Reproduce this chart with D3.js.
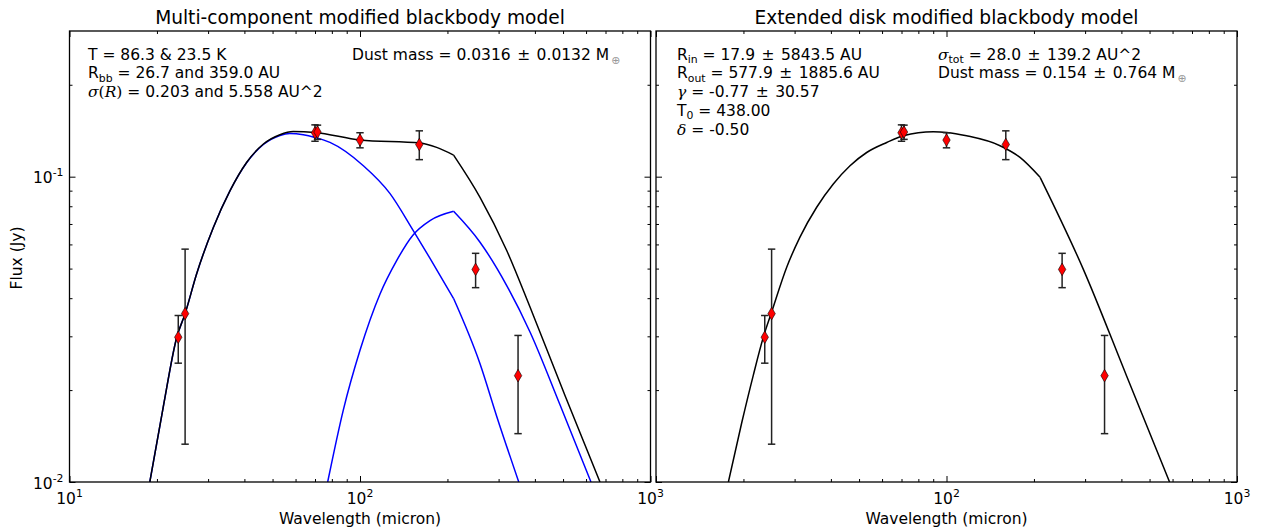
<!DOCTYPE html>
<html>
<head>
<meta charset="utf-8">
<script src="https://cdn.jsdelivr.net/npm/d3@7"></script>
<style>
  body { margin: 0; background: #fff; }
  svg { display: block; }
  text { font-family: "DejaVu Sans", sans-serif; fill: #000; }
</style>
</head>
<body>
<svg id="chart" width="1265" height="531"></svg>
<script>
// Photometry: wavelength (micron), flux (Jy) and 1-sigma errors — same in both panels
const wavelengths = [23.68, 25, 70, 71.4, 100, 160, 250, 350];
const fluxes      = [0.0298, 0.0356, 0.1392, 0.1400, 0.1318, 0.1275, 0.0497, 0.0223];
const fluxErrors  = [0.0053, 0.0223, 0.0086, 0.0075, 0.0075, 0.0138, 0.0064, 0.0079];

// Two-temperature fit: total model and its warm / cold components, [wavelength, flux]
const multiTotal = [
  [18.9, 0.0100], [21.0, 0.0175], [23.4, 0.0298], [25.0, 0.0356], [27.4, 0.0481],
  [31.3, 0.0683], [35.7, 0.0900], [40.7, 0.1113], [46.5, 0.1279], [53.0, 0.1372],
  [58.9, 0.1406], [70.0, 0.1396], [100, 0.1318], [160.9, 0.1288], [183.6, 0.1247],
  [210, 0.1177], [258.9, 0.0856], [319.9, 0.0573], [384.8, 0.0374], [507.7, 0.0192],
  [670, 0.0100]
];
const multiWarm = [
  [18.9, 0.0100], [21.0, 0.0175], [23.4, 0.0298], [25.0, 0.0356], [27.4, 0.0481],
  [31.3, 0.0683], [35.7, 0.0900], [40.7, 0.1111], [46.5, 0.1275], [53.0, 0.1365],
  [57.4, 0.1385], [63.8, 0.1372], [70.0, 0.1344], [78.8, 0.1295], [102.7, 0.1086],
  [126.9, 0.0880], [151.8, 0.0671], [174.2, 0.0540], [210, 0.0399], [258.9, 0.0244],
  [295.6, 0.0164], [352, 0.0100]
];
const multiCold = [
  [77.4, 0.0100], [87.6, 0.0172], [100, 0.0270], [117.2, 0.0413], [133.7, 0.0531],
  [151.8, 0.0642], [174.2, 0.0718], [210, 0.0770], [258.9, 0.0610], [319.9, 0.0440],
  [384.8, 0.0310], [488, 0.0179], [624, 0.0100]
];
// Extended disk fit, [wavelength, flux]
const diskModel = [
  [17.75, 0.0100], [19.72, 0.0156], [21.63, 0.0224], [23.41, 0.0298], [25.0, 0.0360],
  [28.18, 0.0505], [31.3, 0.0634], [35.74, 0.0794], [40.77, 0.0946], [46.54, 0.1086],
  [53.12, 0.1200], [62.26, 0.1294], [71.0, 0.1361], [90.1, 0.1403], [100.2, 0.1396],
  [117.3, 0.1361], [152.9, 0.1263], [179.1, 0.1156], [210, 0.0995], [295.1, 0.0500],
  [417.2, 0.0222], [586, 0.0100]
];
// Wavelength where the emissivity law changes slope (models have a kink here)
const breakWavelength = 210;

// Axis ticks
const xMajorTicks = [10, 100, 1000];
const xTickExponents = ["1", "2", "3"];
const xMinorTicks = [20, 30, 40, 50, 60, 70, 80, 90, 200, 300, 400, 500, 600, 700, 800, 900];
const yMajorTicks = [0.01, 0.1];
const yTickExponents = ["-2", "-1"];
const yMinorTicks = [0.02, 0.03, 0.04, 0.05, 0.06, 0.07, 0.08, 0.09, 0.2];
const xDomain = [10, 1000];
const yDomain = [0.01, 0.3];

const panelTitles = ["Multi-component modified blackbody model", "Extended disk modified blackbody model"];

// Annotation lines: each segment is [text, kind]
const PM = " \u200A\u00B1\u200A ";
const leftNotes = [
  [["T = 86.3 & 23.5 K", "n"]],
  [["R", "n"], ["bb", "sub"], [" = 26.7 and 359.0 AU", "n"]],
  [["\u03C3", "mi"], ["(", "mr"], ["R", "mi"], [")", "mr"], [" = 0.203 and 5.558 AU^2", "n"]]
];
const leftNotes2 = [
  [["Dust mass = 0.0316" + PM + "0.0132 M", "n"], ["\u2295", "earth"]]
];
const rightNotes = [
  [["R", "n"], ["in", "sub"], [" = 17.9" + PM + "5843.5 AU", "n"]],
  [["R", "n"], ["out", "sub"], [" = 577.9" + PM + "1885.6 AU", "n"]],
  [["\u03B3", "mi"], [" = -0.77" + PM + "30.57", "n"]],
  [["T", "n"], ["0", "sub"], [" = 438.00", "n"]],
  [["\u03B4", "mi"], [" = -0.50", "n"]]
];
const rightNotes2 = [
  [["\u03C3", "mi"], ["tot", "sub"], [" = 28.0" + PM + "139.2 AU^2", "n"]],
  [["Dust mass = 0.154" + PM + "0.764 M", "n"], ["\u2295", "earth"]]
];

const FS = 15.5;
const svg = d3.select("#chart");
svg.append("rect").attr("width", 1265).attr("height", 531).attr("fill", "#fff");

const panels = [
  { left: 69.5, right: 650.5, models: [
      { data: multiWarm, color: "#0000ff" },
      { data: multiCold, color: "#0000ff" },
      { data: multiTotal, color: "#000" }
    ], notes: [{ x: 88, lines: leftNotes }, { x: 352, lines: leftNotes2 }], yLabels: true, firstXLabel: true },
  { left: 656, right: 1237, models: [
      { data: diskModel, color: "#000" }
    ], notes: [{ x: 677, lines: rightNotes }, { x: 938, lines: rightNotes2 }], yLabels: false, firstXLabel: false }
];
const plotTop = 31, plotBottom = 482;

// Writes a line of mixed text: subscripts, math italics and the Earth symbol
function writeRich(sel, segs) {
  let shift = 0;
  segs.forEach(([t, kind]) => {
    const ts = sel.append("tspan").text(t);
    let target = 0;
    if (kind === "sub") {
      ts.attr("font-size", FS * 0.7);
      target = 3.5;
    } else if (kind === "mi") {
      ts.attr("font-family", "DejaVu Serif").attr("font-style", "italic");
    } else if (kind === "mr") {
      ts.attr("font-family", "DejaVu Serif");
    } else if (kind === "earth") {
      ts.attr("font-size", FS * 0.7).attr("fill", "#999").attr("dx", 2);
      target = 4;
    }
    if (target !== shift) ts.attr("dy", target - shift);
    shift = target;
  });
}

panels.forEach((p, pi) => {
  const x = d3.scaleLog().domain(xDomain).range([p.left, p.right]);
  const y = d3.scaleLog().domain(yDomain).range([plotBottom, plotTop]);
  const g = svg.append("g");

  const clipId = "clip" + pi;
  g.append("clipPath").attr("id", clipId).append("rect")
    .attr("x", p.left).attr("y", plotTop).attr("width", p.right - p.left).attr("height", plotBottom - plotTop);

  // model curves, drawn in two pieces so the kink at the break wavelength stays sharp
  const line = d3.line().x(d => x(d[0])).y(d => y(d[1])).curve(d3.curveMonotoneX);
  const curves = g.append("g").attr("clip-path", `url(#${clipId})`);
  p.models.forEach(m => {
    const before = m.data.filter(d => d[0] <= breakWavelength);
    const after = m.data.filter(d => d[0] >= breakWavelength);
    [before, after].forEach(seg => {
      curves.append("path").attr("d", line(seg))
        .attr("fill", "none").attr("stroke", m.color).attr("stroke-width", 1.5);
    });
  });

  // error bars
  const eb = g.append("g").attr("stroke", "#222").attr("stroke-width", 1.5);
  wavelengths.forEach((w, i) => {
    const cx = x(w), y1 = y(fluxes[i] - fluxErrors[i]), y2 = y(fluxes[i] + fluxErrors[i]);
    eb.append("line").attr("x1", cx).attr("x2", cx).attr("y1", y1).attr("y2", y2);
    [y1, y2].forEach(cy => eb.append("line").attr("x1", cx - 3.7).attr("x2", cx + 3.7).attr("y1", cy).attr("y2", cy));
  });
  // thin diamond markers
  const diamond = "M0,-6.3L3.7,0L0,6.3L-3.7,0Z";
  wavelengths.forEach((w, i) => {
    g.append("path").attr("d", diamond)
      .attr("transform", `translate(${x(w)},${y(fluxes[i])})`)
      .attr("fill", "#ff0000").attr("stroke", "#000").attr("stroke-width", 0.6);
  });

  // ticks pointing inward on all four sides
  const tickAxes = [
    [d3.axisBottom(x), `translate(0,${plotBottom})`, xMajorTicks, xMinorTicks],
    [d3.axisTop(x), `translate(0,${plotTop})`, xMajorTicks, xMinorTicks],
    [d3.axisLeft(y), `translate(${p.left},0)`, yMajorTicks, yMinorTicks],
    [d3.axisRight(y), `translate(${p.right},0)`, yMajorTicks, yMinorTicks]
  ];
  tickAxes.forEach(([axis, tr, major, minor]) => {
    [[major, 6], [minor, 3]].forEach(([vals, len]) => {
      const a = g.append("g").attr("transform", tr)
        .call(axis.tickValues(vals).tickSize(-len).tickFormat(""));
      a.select(".domain").remove();
      a.selectAll("line").attr("stroke", "#000").attr("stroke-width", 1);
    });
  });

  // frame
  g.append("rect").attr("x", p.left).attr("y", plotTop)
    .attr("width", p.right - p.left).attr("height", plotBottom - plotTop)
    .attr("fill", "none").attr("stroke", "#000").attr("stroke-width", 1.3);

  // x tick labels
  xMajorTicks.forEach((v, i) => {
    if (i === 0 && !p.firstXLabel) return;
    const t = g.append("text").attr("x", x(v)).attr("y", 503.5)
      .attr("text-anchor", "middle").attr("font-size", FS);
    t.append("tspan").text("10");
    t.append("tspan").text(xTickExponents[i]).attr("font-size", FS * 0.7).attr("dy", -7);
  });
  // y tick labels
  if (p.yLabels) {
    yMajorTicks.forEach((v, i) => {
      const t = g.append("text").attr("x", p.left - 6).attr("y", y(v) + 6.5)
        .attr("text-anchor", "end").attr("font-size", FS);
      t.append("tspan").text("10");
      t.append("tspan").text(yTickExponents[i]).attr("font-size", FS * 0.7).attr("dy", -7);
    });
    svg.append("text").attr("transform", `translate(22,258) rotate(-90)`)
      .attr("text-anchor", "middle").attr("font-size", FS).text("Flux (Jy)");
  }
  // axis label and title
  g.append("text").attr("x", (p.left + p.right) / 2).attr("y", 524)
    .attr("text-anchor", "middle").attr("font-size", FS).text("Wavelength (micron)");
  g.append("text").attr("x", (p.left + p.right) / 2).attr("y", 23.5)
    .attr("text-anchor", "middle").attr("font-size", FS * 1.2).text(panelTitles[pi]);

  // fit annotations
  p.notes.forEach(block => {
    block.lines.forEach((segs, li) => {
      const t = g.append("text").attr("x", block.x).attr("y", 59.5 + li * 18.8).attr("font-size", FS);
      writeRich(t, segs);
    });
  });
});
</script>
</body>
</html>
